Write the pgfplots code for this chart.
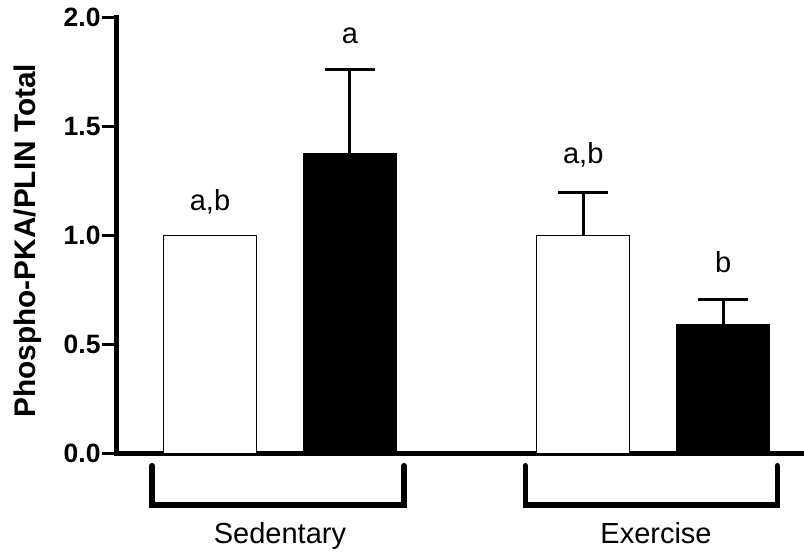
\documentclass[border=0pt]{standalone}
\usepackage{fontspec}
\setmainfont{Liberation Sans}
\usepackage{pgfplots}
\pgfplotsset{compat=1.18}

\newcommand{\txt}{\fontsize{29}{34}\selectfont}

\begin{document}
\begin{tikzpicture}
\begin{axis}[
    name=ax, at={(0,0)}, anchor=south west,
    scale only axis, width=687.3pt, height=436.2pt,
    xmin=0, xmax=7.366, ymin=0, ymax=2,
    axis x line*=bottom, axis y line*=left,
    axis line style={line width=5pt, line cap=rect},
    xtick=\empty,
    ytick={0,0.5,1,1.5,2},
    tick align=outside,
    major tick length=15pt,
    major tick style={black, line width=3.5pt},
    yticklabel style={font=\fontsize{26.5}{30}\selectfont\bfseries, inner sep=1pt,
        /pgf/number format/.cd, fixed, fixed zerofill, precision=1, assume math mode=true},
    ylabel={Phospho-PKA/PLIN Total},
    ylabel style={font=\fontsize{29.8}{34}\selectfont\bfseries, at={(axis description cs:-0.129,0.488)}, anchor=center, inner sep=0pt},
    clip=false,
]
% white bars (first one is the reference, no error)
\addplot[ybar, bar width=1, fill=white, draw=black, line width=1pt]
    coordinates {(1,1.0)};
\addplot[ybar, bar width=1, fill=white, draw=black, line width=1pt,
    error bars/.cd, y dir=plus, y explicit,
    error bar style={line width=3pt},
    error mark options={rotate=90, line width=3pt, mark size=25pt}]
    coordinates {(5,1.0) +- (0,0.196)};
% black bars
\addplot[ybar, bar width=1, fill=black, draw=black, line width=1pt,
    error bars/.cd, y dir=plus, y explicit,
    error bar style={line width=3pt},
    error mark options={rotate=90, line width=3pt, mark size=25pt}]
    coordinates {(2.5,1.376) +- (0,0.386) (6.5,0.592) +- (0,0.116)};

% significance letters
\node[font=\txt, anchor=base] at (axis cs:1,1.116) {a,b};
\node[font=\txt, anchor=base] at (axis cs:2.5,1.881) {a};
\node[font=\txt, anchor=base] at (axis cs:5,1.331) {a,b};
\node[font=\txt, anchor=base] at (axis cs:6.5,0.830) {b};

% group brackets
\draw[line width=5.5pt, line cap=round, line join=miter]
    (axis cs:0.38,-0.056) -- (axis cs:0.38,-0.236) -- (axis cs:3.08,-0.236) -- (axis cs:3.08,-0.056);
\draw[line width=5.5pt, line cap=round, line join=miter]
    (axis cs:4.38,-0.056) -- (axis cs:4.38,-0.236) -- (axis cs:7.08,-0.236) -- (axis cs:7.08,-0.056);
\node[font=\txt, anchor=base] at (axis cs:1.75,-0.412) {Sedentary};
\node[font=\txt, anchor=base] at (axis cs:5.78,-0.412) {Exercise};
\end{axis}
\pgfresetboundingbox
\path ([xshift=-116.7pt,yshift=-98.5pt]ax.south west) rectangle ([yshift=17.3pt]ax.north east);
\end{tikzpicture}
\end{document}
